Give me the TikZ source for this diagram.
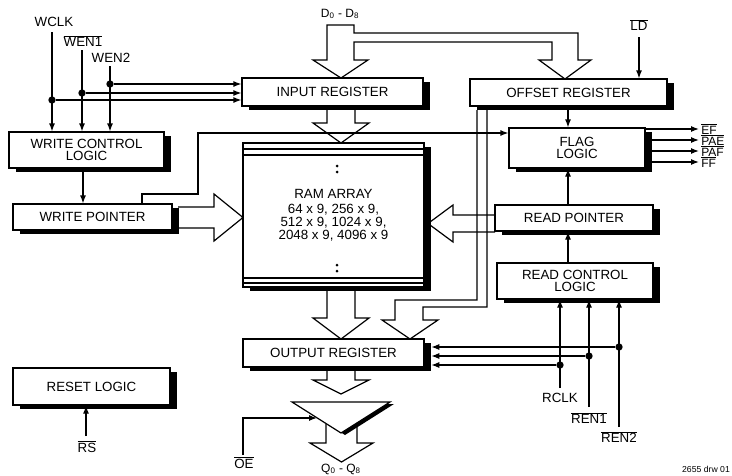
\documentclass[tikz,border=0pt]{standalone}
\usepackage{fontspec}
\setmainfont{Liberation Sans}
\usetikzlibrary{arrows.meta}
\usetikzlibrary{shadows}
\usetikzlibrary{positioning}

\newcommand{\ovl}[1]{$\overline{\mbox{#1}}$}
\newcommand{\pxu}{0.75pt}

\tikzset{
  blk/.style 2 args={draw, fill=white, line width=0.9pt, inner sep=0pt,
    minimum width=#1*\pxu, minimum height=#2*\pxu, align=center,
    font=\fontsize{10}{8.6}\selectfont,
    drop shadow={shadow xshift=5pt, shadow yshift=-2.8pt, fill=black, opacity=1}},
  sig/.style={line width=0.9pt, -{Latex[length=6pt,width=4.5pt]}},
  wire/.style={line width=0.9pt},
  bus/.style={draw, line width=0.9pt, line join=miter},
  pin/.style={font=\fontsize{10}{10}\selectfont, inner sep=0pt},
  flagpin/.style={font=\fontsize{9}{9}\selectfont, inner sep=0pt, anchor=west},
  jn/.style={circle, fill, inner sep=0pt, minimum size=5.5pt}
}

\begin{document}
\begin{tikzpicture}[x=0.75pt,y=-0.75pt]
\useasboundingbox (0,0) rectangle (732,475);

% blocks
\node[blk={155}{36}] (wcl) at (86.5,150) {WRITE CONTROL\\LOGIC};
\node[blk={159}{26}] (wp) at (92.5,217) {WRITE POINTER};
\node[blk={181}{28}] (inreg) at (332.5,92) {INPUT REGISTER};
\node[blk={197}{27}] (offreg) at (568.5,92.5) {OFFSET REGISTER};
\node[blk={136}{40}] (flag) at (577,148) {FLAG\\LOGIC};
\node[blk={158}{26}] (rp) at (574,218) {READ POINTER};
\node[blk={156}{36}] (rcl) at (575,281) {READ CONTROL\\LOGIC};
\node[blk={181}{28}] (outreg) at (333.5,353) {OUTPUT REGISTER};
\node[blk={157}{37}] (reset) at (91.5,386.5) {RESET LOGIC};
\node[blk={181}{144}] (ram) at (333.5,215) {RAM ARRAY\\[3pt]64 x 9, 256 x 9,\\[1pt]512 x 9, 1024 x 9,\\[1pt]2048 x 9, 4096 x 9};

% ram strips and dots
\foreach \y in {149,155,278,283}
  \draw[wire] (ram.west |- 0,\y) -- (ram.east |- 0,\y);
\foreach \y in {166,172,265,271}
  \fill (337,\y) circle (1.5);

% data bus
\draw[bus] (327,60) -- (327,25) -- (354,25) -- (354,33) -- (578,33) -- (578,60)
  -- (591,60) -- (565,79) -- (539,60) -- (552,60) -- (552,42) -- (354,42)
  -- (354,60) -- (368,60) -- (341,78) -- (313,60) -- cycle;
\node[pin, font=\fontsize{9}{9}\selectfont] (ldata) at (340,14) {D\textsubscript{0} - D\textsubscript{8}};

% big arrows
\draw[bus] (327,110) -- (327,123) -- (313,123) -- (341,143) -- (369,123) -- (355,123) -- (355,110);
\draw[bus] (327,291) -- (327,318) -- (313,318) -- (341,339) -- (369,318) -- (355,318) -- (355,291);
\draw[bus] (327,371) -- (327,380) -- (313,380) -- (341,394) -- (369,380) -- (355,380) -- (355,371);
\draw[bus] (178,207) -- (214,207) -- (214,194) -- (243,217.5) -- (214,241) -- (214,228) -- (178,228);
\draw[bus] (495,215) -- (453,215) -- (453,205) -- (428,223.5) -- (453,242) -- (453,232) -- (495,232);

% offset to output register
\draw[bus] (477,110) -- (477,300) -- (395,300) -- (395,320) -- (382,320) -- (410,339)
  -- (438,320) -- (423,320) -- (423,307) -- (487,307) -- (487,110);

% output buffer
\fill (296,404) -- (394,404) -- (345,435) -- cycle;
\draw[wire, fill=white] (292,402) -- (390,402) -- (341,433) -- cycle;
\draw[bus] (326,423.5) -- (326,443) -- (310,443) -- (341.5,462) -- (373,443) -- (357,443) -- (357,423);
\node[pin, font=\fontsize{9}{9}\selectfont] (lq) at (341,469) {Q\textsubscript{0} - Q\textsubscript{8}};

\coordinate (oe) at (243,455);
\coordinate (bufin) at (317,418);
\node[pin] (loe) at (244,463) {\ovl{OE}};
\draw[sig] (oe) -- (oe |- bufin) -- (bufin);

% write side inputs
\node[pin] (lwclk) at (54,22) {WCLK};
\node[pin] (lwen1) at (83,41) {\ovl{WEN1}};
\node[pin] (lwen2) at (111,58) {WEN2};
\coordinate (wclk) at (52,32);
\coordinate (wen1) at (82,50);
\coordinate (wen2) at (110,66);
\draw[sig] (wclk) -- (wclk |- wcl.north);
\draw[sig] (wen1) -- (wen1 |- wcl.north);
\draw[sig] (wen2) -- (wen2 |- wcl.north);
\node[jn] (j1) at (52,100) {};
\node[jn] (j2) at (82,93) {};
\node[jn] (j3) at (110,84) {};
\draw[sig] (j1) -- (j1 -| inreg.west);
\draw[sig] (j2) -- (j2 -| inreg.west);
\draw[sig] (j3) -- (j3 -| inreg.west);

\draw[sig] (wcl.south -| 83,0) -- (wp.north -| 83,0);
\draw[sig] (wp.north -| 142,0) -- (142,194) -- (198,194) -- (198,133) -- (flag.west |- 0,133);

% flag logic
\node[pin] (lld) at (639,25) {\ovl{LD}};
\coordinate (ld) at (639,37);
\draw[sig] (ld) -- (ld |- offreg.north);
\draw[sig] (offreg.south -| 568,0) -- (flag.north -| 568,0);
\draw[sig] (rp.north -| 568,0) -- (flag.south -| 568,0);
\draw[sig] (rcl.north -| 568,0) -- (rp.south -| 568,0);
\foreach \y/\t [count=\i] in {129/EF, 140/PAE, 151/PAF, 162/FF} {
  \node[flagpin] (fo\i) at (701,\y) {\ovl{\t}};
  \draw[sig] (flag.east |- 0,\y) -- ([xshift=-1.5pt]fo\i.west);
}

% read side inputs
\node[pin] (lrclk) at (560,398) {RCLK};
\node[pin] (lren1) at (589,418) {\ovl{REN1}};
\node[pin] (lren2) at (619,437) {\ovl{REN2}};
\coordinate (rclk) at (560,388);
\coordinate (ren1) at (589,407);
\coordinate (ren2) at (619,427);
\draw[sig] (rclk) -- (rclk |- rcl.south);
\draw[sig] (ren1) -- (ren1 |- rcl.south);
\draw[sig] (ren2) -- (ren2 |- rcl.south);
\node[jn] (j4) at (560,365) {};
\node[jn] (j5) at (589,356) {};
\node[jn] (j6) at (619,347) {};
\coordinate (oreg) at ([xshift=5pt]outreg.east);
\draw[sig] (j4) -- (oreg |- j4);
\draw[sig] (j5) -- (oreg |- j5);
\draw[sig] (j6) -- (oreg |- j6);

% reset
\node[pin] (lrs) at (87,447) {\ovl{RS}};
\coordinate (rs) at (86,436);
\draw[sig] (rs) -- (rs |- reset.south);

\node[pin, font=\fontsize{6.5}{7}\selectfont] (dwg) at (706,469) {2655 drw 01};
\end{tikzpicture}
\end{document}
